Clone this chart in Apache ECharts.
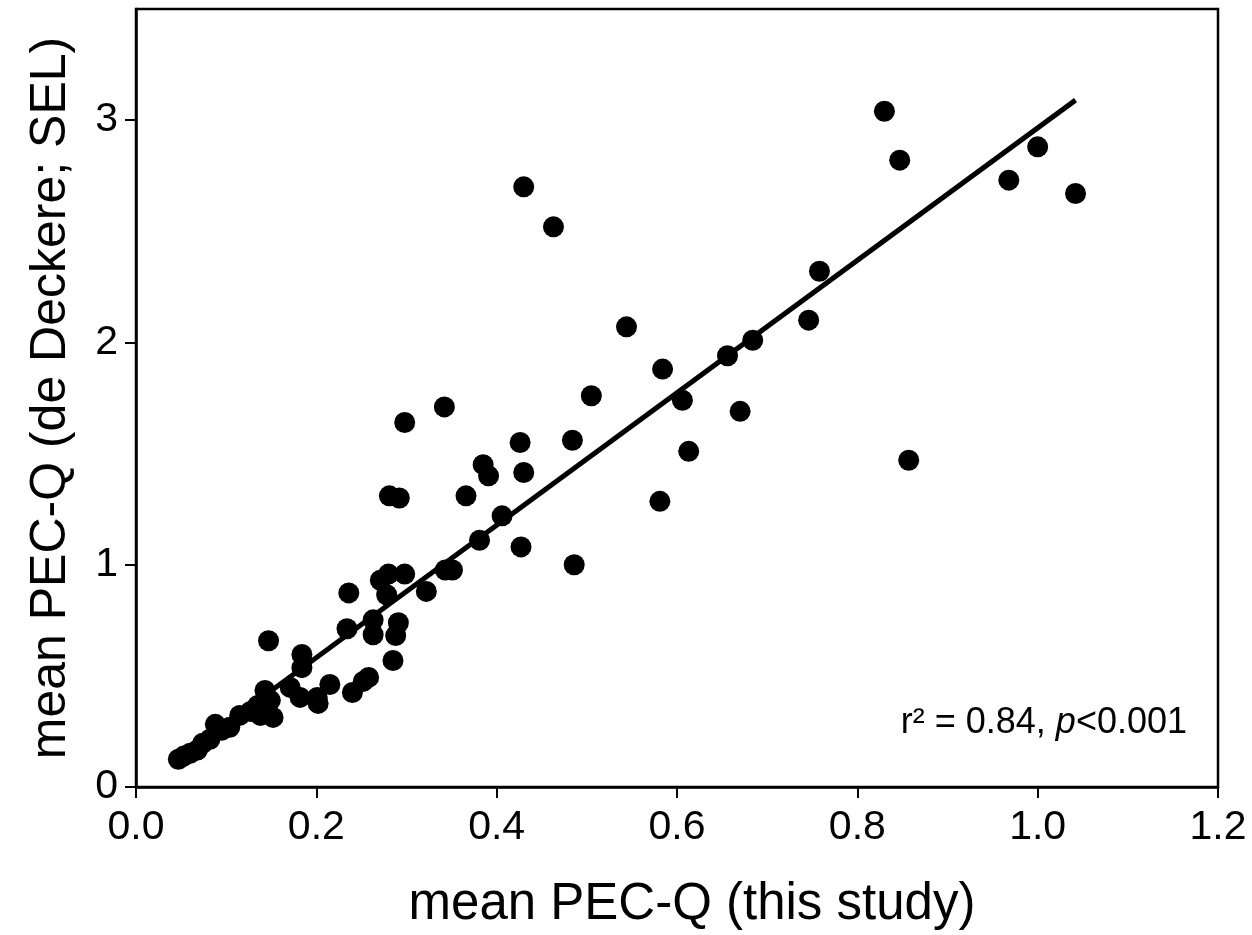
<!DOCTYPE html>
<html>
<head>
<meta charset="utf-8">
<title>PEC-Q comparison</title>
<script src="https://cdn.jsdelivr.net/npm/echarts@6/dist/echarts.min.js"></script>
<style>
  html, body { margin: 0; padding: 0; background: #fff; }
  #chart { width: 1252px; height: 935px; }
</style>
</head>
<body>
<div id="chart"></div>
<script>
// mean PEC-Q, this study (x) vs de Deckere SEL (y)
var xValues = [
  0.830, 0.847, 1.000, 0.968, 1.042, 0.430, 0.463, 0.758, 0.746, 0.544,
  0.684, 0.656, 0.584, 0.505, 0.342, 0.606, 0.670, 0.298, 0.484, 0.426,
  0.613, 0.857, 0.385, 0.391, 0.430, 0.366, 0.281, 0.292, 0.581, 0.406,
  0.381, 0.427, 0.486, 0.343, 0.351, 0.298, 0.271, 0.280, 0.322, 0.236,
  0.278, 0.234, 0.263, 0.263, 0.291, 0.288, 0.285, 0.147, 0.184, 0.184,
  0.258, 0.252, 0.215, 0.240, 0.171, 0.182, 0.201, 0.202, 0.143, 0.149,
  0.152, 0.138, 0.127, 0.115, 0.104, 0.088, 0.082, 0.074, 0.068, 0.060,
  0.053, 0.047, 0.095, 0.135, 0.144
];
var yValues = [
  3.04, 2.82, 2.88, 2.73, 2.67, 2.70, 2.52, 2.32, 2.10, 2.07,
  2.01, 1.94, 1.88, 1.76, 1.71, 1.74, 1.69, 1.64, 1.56, 1.55,
  1.51, 1.47, 1.45, 1.40, 1.415, 1.31, 1.31, 1.30, 1.285, 1.22,
  1.11, 1.08, 1.00, 0.976, 0.976, 0.958, 0.93, 0.958, 0.88, 0.873,
  0.865, 0.712, 0.752, 0.685, 0.739, 0.681, 0.569, 0.658, 0.596, 0.537,
  0.493, 0.475, 0.461, 0.425, 0.448, 0.403, 0.403, 0.376, 0.434, 0.39,
  0.313, 0.322, 0.34, 0.322, 0.269, 0.282, 0.215, 0.197, 0.166, 0.152,
  0.139, 0.125, 0.255, 0.367, 0.35
];
// regression line end points
var fitX = [0.045, 1.042];
var fitY = [0.12, 3.09];
var yTickValues = [0, 1, 2, 3];

var points = xValues.map(function (x, i) { return [x, yValues[i]]; });
var fitLine = fitX.map(function (x, i) { return [x, fitY[i]]; });

var font = 'Liberation Sans, Arial, sans-serif';

var myChart = echarts.init(document.getElementById('chart'));
myChart.setOption({
  animation: false,
  backgroundColor: '#fff',
  title: {
    text: '{a|r² = 0.84, }{i|p}{a|<0.001}',
    right: 60,
    top: 700,
    textStyle: {
      fontWeight: 'normal',
      rich: {
        a: { fontFamily: font, fontSize: 36, color: '#000', fontWeight: 'normal' },
        i: { fontFamily: font, fontSize: 36, color: '#000', fontWeight: 'normal', fontStyle: 'italic' }
      }
    }
  },
  grid: {
    left: 136,
    right: 34,
    top: 9,
    bottom: 145,
    show: true,
    borderColor: '#000',
    borderWidth: 2.5
  },
  xAxis: {
    type: 'value',
    min: 0,
    max: 1.2,
    interval: 0.2,
    name: 'mean PEC-Q (this study)',
    nameLocation: 'middle',
    nameGap: 92,
    nameTextStyle: { fontFamily: font, fontSize: 51, color: '#000', padding: [0, 0, 0, 30] },
    axisLine: { lineStyle: { color: '#000', width: 2.5 } },
    axisTick: { length: 11, lineStyle: { color: '#000', width: 2 } },
    splitLine: { show: false },
    axisLabel: {
      margin: 20,
      fontFamily: font,
      fontSize: 41,
      color: '#000',
      formatter: function (v) { return v.toFixed(1); }
    }
  },
  yAxis: {
    type: 'value',
    min: 0,
    max: 3.5,
    interval: 1,
    name: 'mean PEC-Q (de Deckere; SEL)',
    nameLocation: 'middle',
    nameGap: 60,
    nameTextStyle: { fontFamily: font, fontSize: 50, color: '#000' },
    axisLine: { show: true, lineStyle: { color: '#000', width: 2.5 } },
    axisTick: { show: true, length: 11, customValues: yTickValues, lineStyle: { color: '#000', width: 2 } },
    splitLine: { show: false },
    axisLabel: {
      margin: 18,
      fontFamily: font,
      fontSize: 41,
      color: '#000',
      customValues: yTickValues
    }
  },
  series: [
    {
      type: 'scatter',
      data: points,
      symbol: 'circle',
      symbolSize: 21,
      itemStyle: { color: '#000', opacity: 1 },
      z: 2
    },
    {
      type: 'line',
      data: fitLine,
      showSymbol: false,
      symbol: 'none',
      lineStyle: { color: '#000', width: 5 },
      z: 3
    }
  ]
});
</script>
</body>
</html>
